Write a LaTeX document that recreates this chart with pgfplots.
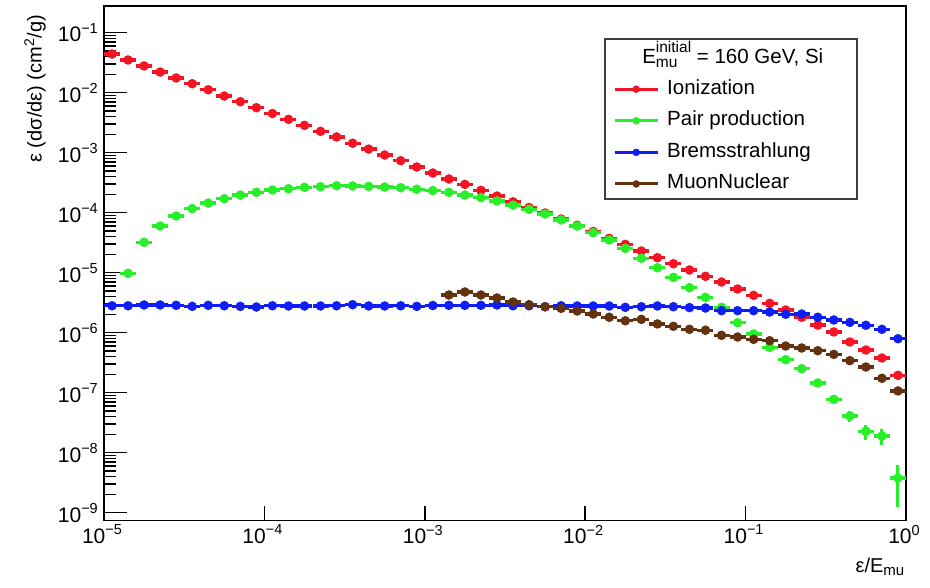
\documentclass[border=0pt]{standalone}
\usepackage{pgfplots}
\pgfplotsset{compat=1.18}
\usepackage{pgfplotstable}
\usepackage{fontspec}
\setmainfont{Liberation Sans}
\definecolor{cred}{RGB}{245,20,35}
\definecolor{cgreen}{RGB}{40,240,40}
\definecolor{cblue}{RGB}{15,30,245}
\definecolor{cbrown}{RGB}{100,50,15}
\newcommand{\tl}[1]{10\raisebox{0.42em}{\fontsize{14.5}{14.5}\selectfont #1}}
\pgfdeclareplotmark{binmark}{%
  \pgfsetlinewidth{3.2pt}%
  \pgfpathmoveto{\pgfqpoint{-8pt}{0pt}}%
  \pgfpathlineto{\pgfqpoint{8pt}{0pt}}%
  \pgfusepathqstroke
  \pgfpathcircle{\pgfpointorigin}{4.8pt}%
  \pgfusepathqfill
}
\pgfplotsset{binplot/.style={only marks, mark=binmark, color=#1,
  legend image code/.code={\draw[#1, line width=3pt] (0pt,0pt) -- (43pt,0pt); \fill[#1] (21.5pt,0pt) circle (3.5pt);}}}

\pgfplotstableread{
x y
1.1220e-5 0.0442
1.4125e-5 0.0351
1.7783e-5 0.0279
2.2387e-5 0.0221
2.8184e-5 0.0176
3.5481e-5 0.0141
4.4668e-5 0.0112
5.6234e-5 0.00881
7.0795e-5 0.00708
8.9125e-5 0.00562
1.1220e-4 0.00450
1.4125e-4 0.00360
1.7783e-4 0.00286
2.2387e-4 0.00227
2.8184e-4 0.00183
3.5481e-4 0.00144
4.4668e-4 0.00115
5.6234e-4 0.000916
7.0795e-4 0.000736
8.9125e-4 0.000578
1.1220e-3 0.000459
1.4125e-3 0.000365
1.7783e-3 0.000297
2.2387e-3 0.000236
2.8184e-3 0.000190
3.5481e-3 0.000152
4.4668e-3 0.000122
5.6234e-3 9.89e-5
7.0795e-3 7.85e-5
8.9125e-3 6.17e-5
1.1220e-2 4.86e-5
1.4125e-2 3.74e-5
1.7783e-2 2.97e-5
2.2387e-2 2.30e-5
2.8184e-2 1.78e-5
3.5481e-2 1.41e-5
4.4668e-2 1.11e-5
5.6234e-2 8.71e-6
7.0795e-2 7.00e-6
8.9125e-2 5.35e-6
1.1220e-1 4.20e-6
1.4125e-1 3.09e-6
1.7783e-1 2.39e-6
2.2387e-1 1.81e-6
2.8184e-1 1.34e-6
3.5481e-1 1.03e-6
4.4668e-1 7.00e-7
5.6234e-1 5.15e-7
7.0795e-1 3.79e-7
8.9125e-1 1.95e-7
}\ionization

\pgfplotstableread{
x y e
1.4125e-5 9.77e-6 0
1.7783e-5 3.21e-5 0
2.2387e-5 6.00e-5 0
2.8184e-5 8.81e-5 0
3.5481e-5 1.17e-4 0
4.4668e-5 1.45e-4 0
5.6234e-5 1.71e-4 0
7.0795e-5 1.97e-4 0
8.9125e-5 2.19e-4 0
1.1220e-4 2.39e-4 0
1.4125e-4 2.51e-4 0
1.7783e-4 2.65e-4 0
2.2387e-4 2.71e-4 0
2.8184e-4 2.82e-4 0
3.5481e-4 2.79e-4 0
4.4668e-4 2.75e-4 0
5.6234e-4 2.68e-4 0
7.0795e-4 2.61e-4 0
8.9125e-4 2.46e-4 0
1.1220e-3 2.34e-4 0
1.4125e-3 2.19e-4 0
1.7783e-3 1.97e-4 0
2.2387e-3 1.78e-4 0
2.8184e-3 1.57e-4 0
3.5481e-3 1.34e-4 0
4.4668e-3 1.14e-4 0
5.6234e-3 9.51e-5 0
7.0795e-3 7.56e-5 0
8.9125e-3 6.00e-5 0
1.1220e-2 4.64e-5 0
1.4125e-2 3.51e-5 0
1.7783e-2 2.55e-5 0
2.2387e-2 1.74e-5 0
2.8184e-2 1.21e-5 0
3.5481e-2 8.38e-6 0
4.4668e-2 5.62e-6 0
5.6234e-2 3.89e-6 0
7.0795e-2 2.65e-6 0
8.9125e-2 1.47e-6 0
1.1220e-1 9.51e-7 0
1.4125e-1 5.71e-7 0
1.7783e-1 3.55e-7 0
2.2387e-1 2.51e-7 0
2.8184e-1 1.45e-7 0
3.5481e-1 7.76e-8 1.0e-8
4.4668e-1 4.09e-8 9.0e-9
5.6234e-1 2.28e-8 6.3e-9
7.0795e-1 1.90e-8 5.4e-9
8.9125e-1 3.79e-9 2.55e-9
}\pairprod

\pgfplotstableread{
x y
1.1220e-5 2.81e-6
1.4125e-5 2.81e-6
1.7783e-5 2.90e-6
2.2387e-5 2.90e-6
2.8184e-5 2.86e-6
3.5481e-5 2.75e-6
4.4668e-5 2.86e-6
5.6234e-5 2.81e-6
7.0795e-5 2.75e-6
8.9125e-5 2.68e-6
1.1220e-4 2.81e-6
1.4125e-4 2.79e-6
1.7783e-4 2.79e-6
2.2387e-4 2.79e-6
2.8184e-4 2.81e-6
3.5481e-4 2.93e-6
4.4668e-4 2.79e-6
5.6234e-4 2.79e-6
7.0795e-4 2.81e-6
8.9125e-4 2.75e-6
1.1220e-3 2.84e-6
1.4125e-3 2.86e-6
1.7783e-3 2.86e-6
2.2387e-3 2.86e-6
2.8184e-3 2.90e-6
3.5481e-3 2.81e-6
4.4668e-3 2.81e-6
5.6234e-3 2.71e-6
7.0795e-3 2.81e-6
8.9125e-3 2.79e-6
1.1220e-2 2.79e-6
1.4125e-2 2.79e-6
1.7783e-2 2.65e-6
2.2387e-2 2.71e-6
2.8184e-2 2.79e-6
3.5481e-2 2.71e-6
4.4668e-2 2.62e-6
5.6234e-2 2.58e-6
7.0795e-2 2.33e-6
8.9125e-2 2.33e-6
1.1220e-1 2.33e-6
1.4125e-1 2.21e-6
1.7783e-1 2.03e-6
2.2387e-1 2.05e-6
2.8184e-1 1.81e-6
3.5481e-1 1.63e-6
4.4668e-1 1.49e-6
5.6234e-1 1.33e-6
7.0795e-1 1.14e-6
8.9125e-1 7.94e-7
}\brems

\pgfplotstableread{
x y
1.4125e-3 4.25e-6
1.7783e-3 4.77e-6
2.2387e-3 4.25e-6
2.8184e-3 3.79e-6
3.5481e-3 3.25e-6
4.4668e-3 2.93e-6
5.6234e-3 2.71e-6
7.0795e-3 2.55e-6
8.9125e-3 2.30e-6
1.1220e-2 2.05e-6
1.4125e-2 1.81e-6
1.7783e-2 1.58e-6
2.2387e-2 1.67e-6
2.8184e-2 1.40e-6
3.5481e-2 1.28e-6
4.4668e-2 1.14e-6
5.6234e-2 1.10e-6
7.0795e-2 9.05e-7
8.9125e-2 8.48e-7
1.1220e-1 7.76e-7
1.4125e-1 7.36e-7
1.7783e-1 6.00e-7
2.2387e-1 5.56e-7
2.8184e-1 5.01e-7
3.5481e-1 4.36e-7
4.4668e-1 3.42e-7
5.6234e-1 2.68e-7
7.0795e-1 1.74e-7
8.9125e-1 1.07e-7
}\muonnuc

\begin{document}
\begin{tikzpicture}
\useasboundingbox (0,0) rectangle (930pt,587pt);
\begin{axis}[
  at={(104pt,66.3pt)}, anchor=south west,
  scale only axis, width=802pt, height=514.7pt,
  xmode=log, ymode=log,
  xmin=1e-5, xmax=1, ymin=7.36e-10, ymax=0.2786,
  axis line style={line width=1.5pt},
  tick align=inside, xtick pos=bottom, ytick pos=left,
  xtick={1e-5,1e-4,1e-3,1e-2,1e-1,1},
  xticklabels={\tl{−5},\tl{−4},\tl{−3},\tl{−2},\tl{−1},\tl{0}},
  ytick={1e-9,1e-8,1e-7,1e-6,1e-5,1e-4,1e-3,1e-2,1e-1},
  yticklabels={\tl{−9},\tl{−8},\tl{−7},\tl{−6},\tl{−5},\tl{−4},\tl{−3},\tl{−2},\tl{−1}},
  xminorticks=false, yminorticks=true,
  major tick length=23pt, minor tick length=12pt,
  xtick style={/pgfplots/major tick length=15pt},
  tick style={black, line width=1.5pt},
  tick label style={font=\fontsize{21}{24}\selectfont},
  xticklabel style={anchor=north, inner sep=0pt, yshift=-4pt, xshift=-2pt},
  yticklabel style={anchor=east, inner sep=0pt, xshift=-6pt},
  label style={font=\fontsize{20}{24}\selectfont},
  xlabel={ε/E\textsubscript{\fontsize{15}{15}\selectfont mu}},
  xlabel style={at={(axis description cs:0.9988,-0.101)}, anchor=base east, inner sep=0pt},
  ylabel={ε (dσ/dε) (cm\textsuperscript{2}/g)},
  ylabel style={at={(axis description cs:-0.086,0.9825)}, anchor=east, inner sep=0pt},
  legend cell align=left,
  legend style={at={(axis description cs:0.6347,0.8563)}, anchor=north west,
    draw=none, fill=none, inner sep=0pt, row sep=13.6pt, column sep=8pt,
    font=\fontsize{20.5}{24}\selectfont,
    nodes={inner sep=0pt, text height=14pt, text depth=4pt}},
]
\addplot[binplot=cred] table[x=x,y=y] {\ionization};
\addlegendentry{Ionization}
\addplot[binplot=cgreen, error bars/.cd, y dir=both, y explicit,
  error mark=none, error bar style={line width=3pt, cgreen}]
  table[x=x,y=y,y error=e] {\pairprod};
\addlegendentry{Pair production}
\addplot[binplot=cblue] table[x=x,y=y] {\brems};
\addlegendentry{Bremsstrahlung}
\addplot[binplot=cbrown] table[x=x,y=y] {\muonnuc};
\addlegendentry{MuonNuclear}
\draw[draw=black!75, line width=1.2pt, fill=white]
  (axis description cs:0.6247,0.625) rectangle (axis description cs:0.9389,0.9359);
\node[anchor=base, font=\fontsize{20.5}{24}\selectfont, inner sep=0pt]
  at (axis description cs:0.784,0.889)
  {E\rlap{\raisebox{-4pt}{\fontsize{15.5}{15.5}\selectfont mu}}\raisebox{11pt}{\fontsize{15.5}{15.5}\selectfont initial} = 160 GeV, Si};
\end{axis}
\end{tikzpicture}
\end{document}
